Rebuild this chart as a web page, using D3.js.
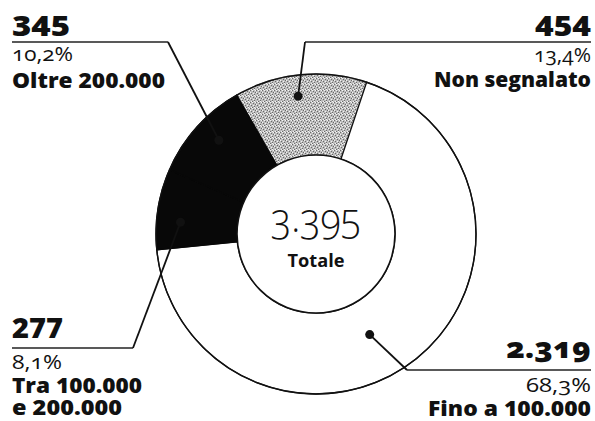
<!DOCTYPE html>
<html>
<head>
<meta charset="utf-8">
<title></title>
<style>
  body { margin: 0; background: #fff; }
  text { font-family: "Open Sans", sans-serif; fill: #111; }
</style>
</head>
<body>
<div id="chart"></div>
<script src="https://cdnjs.cloudflare.com/ajax/libs/d3/7.8.5/d3.min.js"></script>
<script>
// data
var categories = [["Non segnalato"], ["Fino a 100.000"], ["Tra 100.000", "e 200.000"], ["Oltre 200.000"]];
var values = [454, 2319, 277, 345];
var valueLabels = ["454", "2.319", "277", "345"];
var percentLabels = ["13,4%", "68,3%", "8,1%", "10,2%"];
var totalLabel = "3.395";
var totalCaption = "Totale";

// layout of the callouts (positions only)
var callouts = [
  {x: 591, anchor: "end", yNum: 36, yLine: 42, yPct: 62, yLab: [87], ux0: 305, ux1: 591, elbow: 305,
   dotA: -7.4, dotR: 139, wNum: 56, wPct: 57, wLab: [157], onum: false},
  {x: 591, anchor: "end", yNum: 358, yLine: 370, yPct: 392, yLab: [416], ux0: 407, ux1: 591, elbow: 407,
   dotA: 151.9, dotR: 114, wNum: 85, wPct: 65, wLab: [163], onum: true},
  {x: 12, anchor: "start", yNum: 338, yLine: 348, yPct: 369, yLab: [393, 415], ux0: 12, ux1: 133, elbow: 133,
   dotA: -85, dotR: 136, wNum: 51, wPct: 50, wLab: [130, 110], onum: false},
  {x: 12, anchor: "start", yNum: 36, yLine: 42, yPct: 61, yLab: [88], ux0: 12, ux1: 168, elbow: 168,
   dotA: -46, dotR: 135, wNum: 58, wPct: 61, wLab: [153], onum: false}
];

var fills = ["url(#stipple)", "#fff", "#080808", "#080808"];
var strokes = ["#777", "#111", "#080808", "#080808"];

var w = 595, h = 421;
var cx = 316, cy = 234, rOut = 160, rIn = 79;

var svg = d3.select("#chart").append("svg")
    .attr("width", w)
    .attr("height", h);

// stipple texture for "Non segnalato"
var pat = svg.append("defs").append("pattern")
    .attr("id", "stipple")
    .attr("width", 6).attr("height", 6)
    .attr("patternUnits", "userSpaceOnUse");
pat.append("rect").attr("width", 6).attr("height", 6).attr("fill", "#bdbdbd");
[[0,0],[3,1],[1,3],[4,4],[5,2],[2,5]].forEach(function(p) {
  pat.append("rect").attr("x", p[0]).attr("y", p[1]).attr("width", 1).attr("height", 1).attr("fill", "#6a6a6a");
});
[[2,0],[5,0],[0,2],[3,3],[1,5],[4,5]].forEach(function(p) {
  pat.append("rect").attr("x", p[0]).attr("y", p[1]).attr("width", 1).attr("height", 1).attr("fill", "#f4f4f4");
});

var start = -29.7 * Math.PI / 180;
var pie = d3.pie().sort(null).startAngle(start).endAngle(start + 2 * Math.PI);
var arcs = pie(values);
var arc = d3.arc().innerRadius(rIn).outerRadius(rOut);

var g = svg.append("g").attr("transform", "translate(" + cx + "," + cy + ")");

g.selectAll("path.slice")
  .data(arcs)
  .enter().append("path")
  .attr("class", "slice")
  .attr("d", arc)
  .attr("fill", function(d, i) { return fills[i]; })
  .attr("stroke", function(d, i) { return strokes[i]; })
  .attr("stroke-width", 1.3);

// outer and inner rings
g.append("circle").attr("r", rOut).attr("fill", "none").attr("stroke", "#111").attr("stroke-width", 1.4);
g.append("circle").attr("r", rIn).attr("fill", "#fff").attr("stroke", "#111").attr("stroke-width", 1.6);

// centre total
g.append("text")
  .attr("text-anchor", "middle")
  .attr("y", -2)
  .style("font-size", "40px")
  .style("font-weight", 300)
  .style("font-variant-numeric", "oldstyle-nums")
  .attr("textLength", 90)
  .attr("lengthAdjust", "spacingAndGlyphs")
  .text(totalLabel);
g.append("text")
  .attr("text-anchor", "middle")
  .attr("y", 33)
  .style("font-size", "18px")
  .style("font-weight", 700)
  .attr("textLength", 57)
  .attr("lengthAdjust", "spacingAndGlyphs")
  .text(totalCaption);

// callouts
callouts.forEach(function(c, i) {
  var p = d3.pointRadial(c.dotA * Math.PI / 180, c.dotR);
  var dx = cx + p[0], dy = cy + p[1];

  svg.append("line")
    .attr("x1", c.ux0).attr("x2", c.ux1)
    .attr("y1", c.yLine).attr("y2", c.yLine)
    .attr("stroke", "#222").attr("stroke-width", 1.6);
  svg.append("line")
    .attr("x1", c.elbow).attr("y1", c.yLine)
    .attr("x2", dx).attr("y2", dy)
    .attr("stroke", "#111").attr("stroke-width", 1.8);
  svg.append("circle")
    .attr("cx", dx).attr("cy", dy).attr("r", 4.5)
    .attr("fill", "#111");

  svg.append("text")
    .attr("x", c.x).attr("y", c.yNum)
    .attr("text-anchor", c.anchor)
    .style("font-size", "28px").style("font-weight", 800)
    .style("font-variant-numeric", c.onum ? "oldstyle-nums" : "normal")
    .attr("textLength", c.wNum).attr("lengthAdjust", "spacingAndGlyphs")
    .text(valueLabels[i]);
  svg.append("text")
    .attr("x", c.x).attr("y", c.yPct)
    .attr("text-anchor", c.anchor)
    .style("font-size", "20px").style("font-weight", 400)
    .style("font-variant-numeric", "oldstyle-nums")
    .attr("textLength", c.wPct).attr("lengthAdjust", "spacingAndGlyphs")
    .text(percentLabels[i]);
  categories[i].forEach(function(line, j) {
    svg.append("text")
      .attr("x", c.x).attr("y", c.yLab[j])
      .attr("text-anchor", c.anchor)
      .style("font-size", "21px").style("font-weight", 800)
      .attr("textLength", c.wLab[j]).attr("lengthAdjust", "spacingAndGlyphs")
      .text(line);
  });
});
</script>
</body>
</html>
